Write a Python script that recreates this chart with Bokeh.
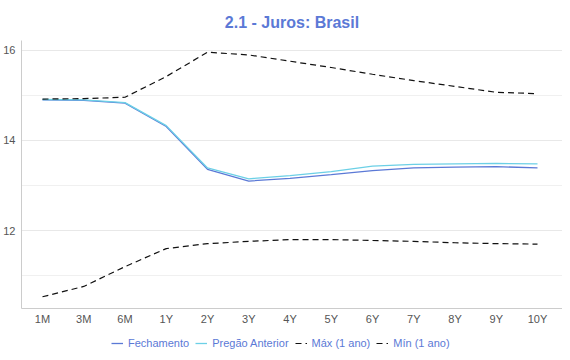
from bokeh.plotting import figure
from bokeh.layouts import column
from bokeh.models import FixedTicker, Legend, LegendItem, Range1d, ColumnDataSource
from bokeh.embed import file_html
from bokeh.resources import INLINE

categories = ["1M", "3M", "6M", "1Y", "2Y", "3Y", "4Y", "5Y", "6Y", "7Y", "8Y", "9Y", "10Y"]
fechamento = [14.90, 14.89, 14.83, 14.31, 13.36, 13.10, 13.16, 13.24, 13.33, 13.39, 13.41, 13.42, 13.39]
pregao_anterior = [14.91, 14.90, 14.84, 14.33, 13.39, 13.15, 13.22, 13.31, 13.43, 13.47, 13.48, 13.49, 13.48]
max_1ano = [14.92, 14.93, 14.96, 15.42, 15.96, 15.90, 15.76, 15.62, 15.47, 15.33, 15.20, 15.07, 15.04]
min_1ano = [10.53, 10.76, 11.20, 11.60, 11.71, 11.76, 11.80, 11.80, 11.78, 11.76, 11.73, 11.71, 11.70]
y_ticks = [12, 14, 16]
y_minor = [11, 13, 15]
series_names = ["Fechamento", "Pregão Anterior", "Máx (1 ano)", "Mín (1 ano)"]

xs = list(range(len(categories)))
src = ColumnDataSource(dict(x=xs, fech=fechamento, preg=pregao_anterior, mx=max_1ano, mn=min_1ano))
cols = ["fech", "preg", "mx", "mn"]

FONT = "Liberation Sans"
BLUE = "#5b79d6"
CYAN = "#6cd0e6"
styles = [dict(line_color=BLUE, line_width=1.3),
          dict(line_color=CYAN, line_width=1.3),
          dict(line_color="#111111", line_width=1.2, line_dash="6 4"),
          dict(line_color="#111111", line_width=1.2, line_dash="6 4")]

p = figure(frame_width=541, frame_height=268, output_backend="svg", toolbar_location=None,
           x_range=Range1d(-0.509, 12.606), y_range=Range1d(10.27, 16.22),
           min_border_left=0, min_border_right=0, min_border_top=40, min_border_bottom=0)
p.title.text = "2.1 - Juros: Brasil"
p.title.align = "center"
p.title.text_color = BLUE
p.title.text_font = FONT
p.title.text_font_size = "16px"
p.title.text_font_style = "bold"
p.title.standoff = 19
p.outline_line_color = None

for col, st in zip(cols, styles):
    p.line("x", col, source=src, **st)

p.xaxis.ticker = FixedTicker(ticks=xs)
p.xaxis.major_label_overrides = {i: c for i, c in enumerate(categories)}
p.yaxis.ticker = FixedTicker(ticks=y_ticks, minor_ticks=y_minor)
for ax in (p.xaxis, p.yaxis):
    ax.major_tick_line_color = None
    ax.minor_tick_line_color = None
    ax.major_tick_out = 0
    ax.major_tick_in = 0
    ax.minor_tick_out = 0
    ax.axis_line_color = "#cccccc"
    ax.major_label_text_color = "#555555"
    ax.major_label_text_font = FONT
    ax.major_label_text_font_size = "11px"
p.yaxis.major_label_standoff = 6
p.xaxis.major_label_standoff = 4
p.xgrid.grid_line_color = None
p.ygrid.grid_line_color = "#e8e8e8"
p.ygrid.minor_grid_line_color = "#f0f0f0"

# separate strip holding the legend below the chart (its lines fall outside its range)
lf = figure(width=560, height=32, output_backend="svg", toolbar_location=None,
            x_range=Range1d(0, 1), y_range=Range1d(0, 1),
            min_border_left=0, min_border_right=0, min_border_top=0, min_border_bottom=0)
lf.axis.visible = False
lf.grid.visible = False
lf.outline_line_color = None
items = []
for name, col, st in zip(series_names, cols, styles):
    r = lf.line("x", col, source=src, **st)
    items.append(LegendItem(label=name, renderers=[r]))
legend = Legend(items=items, orientation="horizontal", location=(90, 9))
legend.label_text_color = BLUE
legend.label_text_font = FONT
legend.label_text_font_size = "11px"
legend.glyph_width = 12
legend.glyph_height = 14
legend.label_height = 14
legend.label_standoff = 5
legend.spacing = 6
legend.border_line_color = None
legend.background_fill_alpha = 0
legend.padding = 0
legend.margin = 0
lf.add_layout(legend)

layout = column(p, lf, spacing=0)
open("out.html", "w").write(file_html(layout, INLINE))
